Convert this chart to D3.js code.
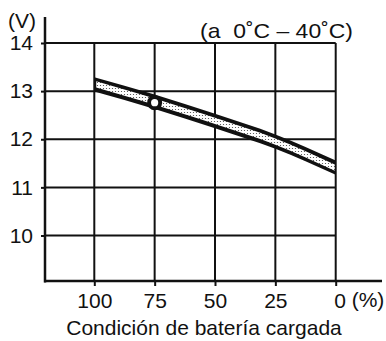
<!DOCTYPE html>
<html>
<head>
<meta charset="utf-8">
<script src="https://cdn.jsdelivr.net/npm/d3@7"></script>
<style>
  html, body { margin: 0; padding: 0; background: #fff; }
  svg { display: block; }
  text { font-family: "Liberation Sans", Arial, Helvetica, sans-serif; fill: #111; }
</style>
</head>
<body>
<svg id="chart" width="386" height="341"></svg>
<script>
// ---- data ----
const chargePct = [100, 75, 50, 25, 0];
const voltage = [13.14, 12.78, 12.38, 11.95, 11.41];
const xTickValues = [100, 75, 50, 25, 0];
const yTickValues = [10, 11, 12, 13, 14];
const markerPct = [75];
const markerVolt = [12.76];
const yUnit = "(V)";
const xUnit = "(%)";
const tempNote = "(a  0˚C – 40˚C)";
const xTitle = "Condición de batería cargada";

// ---- layout ----
const W = 386, H = 341;
const axisX = 45, axisY = 281;
const svg = d3.select("#chart");
svg.append("rect").attr("width", W).attr("height", H).attr("fill", "#fff");

const x = d3.scaleLinear().domain([100, 0]).range([94.3, 335.7]);
const y = d3.scaleLinear().domain([10, 14]).range([235.5, 43]);

// stipple pattern
const defs = svg.append("defs");
const pat = defs.append("pattern").attr("id", "stip").attr("patternUnits", "userSpaceOnUse")
  .attr("width", 3).attr("height", 3);
pat.append("rect").attr("width", 3).attr("height", 3).attr("fill", "#fff");
pat.append("circle").attr("cx", 1.5).attr("cy", 1.5).attr("r", 0.6).attr("fill", "#444");

// gridlines
const grid = svg.append("g").attr("stroke", "#111").attr("stroke-width", 2);
grid.selectAll("line.h").data(yTickValues).join("line").attr("class", "h")
  .attr("x1", axisX).attr("x2", x(0)).attr("y1", d => y(d)).attr("y2", d => y(d));
grid.selectAll("line.v").data(xTickValues).join("line").attr("class", "v")
  .attr("x1", d => x(d)).attr("x2", d => x(d)).attr("y1", y(14)).attr("y2", axisY);

// axes (ticks + labels)
const yAxis = d3.axisLeft(y).tickValues(yTickValues).tickSize(4).tickPadding(8).tickFormat(d3.format("d"));
const gy = svg.append("g").attr("transform", `translate(${axisX},0)`).call(yAxis);
gy.select(".domain").remove();
gy.selectAll(".tick line").attr("stroke", "#111").attr("stroke-width", 2);
gy.selectAll(".tick text").attr("font-size", 21).attr("fill", "#111")
  .attr("font-family", "Liberation Sans, Arial, sans-serif");

const xAxis = d3.axisBottom(x).tickValues(xTickValues).tickSize(5).tickPadding(7).tickFormat(d3.format("d"));
const gx = svg.append("g").attr("transform", `translate(0,${axisY})`).call(xAxis);
gx.select(".domain").remove();
gx.selectAll(".tick line").attr("stroke", "#111").attr("stroke-width", 2);
gx.selectAll(".tick text").attr("font-size", 21).attr("fill", "#111")
  .attr("font-family", "Liberation Sans, Arial, sans-serif")
  .attr("dx", d => d === 0 ? 4 : 0);

// main axis lines
svg.append("line").attr("x1", axisX).attr("x2", axisX).attr("y1", 17).attr("y2", axisY + 1.5)
  .attr("stroke", "#111").attr("stroke-width", 2.5);
svg.append("line").attr("x1", axisX - 1).attr("x2", 382).attr("y1", axisY).attr("y2", axisY)
  .attr("stroke", "#111").attr("stroke-width", 2.5);

// band
const pts = chargePct.map((p, i) => ({ p, v: voltage[i] }));
const outer = d3.area().x(d => x(d.p)).y0(d => y(d.v) + 7.2).y1(d => y(d.v) - 7.2).curve(d3.curveNatural);
const inner = d3.area().x(d => x(d.p)).y0(d => y(d.v) + 3.1).y1(d => y(d.v) - 3.1).curve(d3.curveNatural);
svg.append("path").datum(pts).attr("d", outer).attr("fill", "#111");
svg.append("path").datum(pts.map(d => ({ p: d.p === 100 ? 99.2 : d.p === 0 ? 0.4 : d.p, v: d.v })))
  .attr("d", inner).attr("fill", "url(#stip)");

// marker
const mk = markerPct.map((p, i) => ({ p, v: markerVolt[i] }));
svg.selectAll("circle.mo").data(mk).join("circle").attr("class", "mo")
  .attr("cx", d => x(d.p)).attr("cy", d => y(d.v)).attr("r", 7.5).attr("fill", "#111");
svg.selectAll("circle.mi").data(mk).join("circle").attr("class", "mi")
  .attr("cx", d => x(d.p)).attr("cy", d => y(d.v)).attr("r", 3.6).attr("fill", "#fff");

// texts
svg.append("text").attr("x", 8).attr("y", 27.6).attr("font-size", 21).text(yUnit);
svg.append("text").attr("x", x(0) + 16).attr("y", 307).attr("font-size", 21).text(xUnit);
svg.append("text").attr("x", 200).attr("y", 37.6).attr("font-size", 21)
  .style("white-space", "pre")
  .attr("textLength", 153).attr("lengthAdjust", "spacingAndGlyphs").text(tempNote);
svg.append("text").attr("x", 204).attr("y", 335).attr("font-size", 21)
  .attr("text-anchor", "middle").text(xTitle);
</script>
</body>
</html>
